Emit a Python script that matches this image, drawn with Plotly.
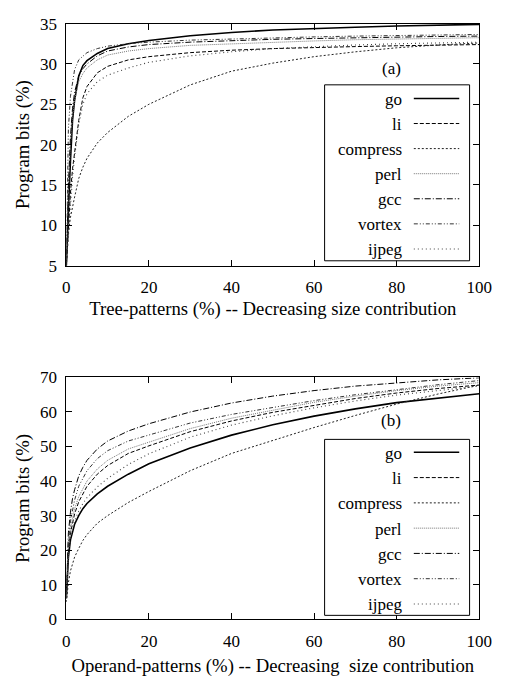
import plotly.graph_objects as go

W, H = 508, 683

# ---------------- data ----------------
x_pct = [0, 0.25, 0.5, 1, 1.5, 2, 3, 4, 5, 7.5, 10, 15, 20, 30, 40, 50, 60, 70, 80, 90, 100]
benchmarks = ["go", "li", "compress", "perl", "gcc", "vortex", "ijpeg"]

# (a) Tree-patterns
tree_go = [5, 9, 12, 18, 23, 25.5, 28.5, 29.8, 30.4, 31.3, 31.9, 32.5, 32.9, 33.5, 33.9, 34.2, 34.4, 34.55, 34.7, 34.8, 34.9]
tree_li = [5, 7.5, 10, 14, 17, 19, 23, 25.8, 27.2, 28.9, 29.7, 30.5, 30.9, 31.4, 31.7, 31.9, 32.05, 32.15, 32.25, 32.35, 32.4]
tree_compress = [5, 7.5, 9, 11, 12.5, 13.5, 15.8, 17.2, 18.3, 20.2, 21.5, 23.5, 25, 27.4, 29.1, 30.1, 30.9, 31.5, 32, 32.35, 32.6]
tree_perl = [5, 10, 14, 20, 23.5, 25.5, 27.8, 28.8, 29.5, 30.5, 31.1, 31.6, 31.9, 32.3, 32.5, 32.7, 32.85, 33, 33.1, 33.2, 33.25]
tree_gcc = [5, 11, 15, 21, 24.5, 26.5, 28.5, 29.4, 30, 31, 31.6, 32.1, 32.4, 32.7, 32.9, 33.05, 33.15, 33.25, 33.3, 33.4, 33.45]
tree_vortex = [5, 15, 22, 26, 28, 29.3, 30.5, 31.0, 31.4, 31.9, 32.2, 32.5, 32.7, 32.95, 33.1, 33.25, 33.35, 33.45, 33.5, 33.6, 33.65]
tree_ijpeg = [5, 7, 9, 13, 16, 18.5, 22.5, 25, 26.3, 27.8, 28.6, 29.5, 30.2, 31, 31.5, 31.9, 32.15, 32.35, 32.5, 32.6, 32.7]

# (b) Operand-patterns
op_go = [6, 14, 18, 23, 25.5, 27.5, 30, 32, 33.5, 36.3, 38.5, 42, 45, 49.6, 53.3, 56.3, 58.8, 60.9, 62.7, 64.1, 65.3]
op_li = [7, 15, 19.5, 25, 28, 30.5, 34, 36.5, 38.5, 42, 44.5, 48, 50.2, 54.3, 57.4, 59.9, 62, 63.9, 65.5, 66.8, 67.8]
op_compress = [5, 8, 10.6, 14, 16.3, 18, 20.5, 22.8, 24.5, 27.8, 30, 33.8, 37, 43, 48, 51.8, 55.5, 59, 62.3, 65.2, 67.8]
op_perl = [7, 15.5, 20.5, 26.5, 29.5, 32, 35.5, 38, 40, 43.5, 46, 49.3, 51.3, 55.2, 58.2, 60.6, 62.8, 64.6, 66.2, 67.5, 68.5]
op_gcc = [8, 19, 25, 31, 35, 37.5, 41.5, 44, 46, 49.3, 51.6, 54.5, 56.6, 60, 62.6, 64.6, 66.2, 67.5, 68.5, 69.3, 69.9]
op_vortex = [7, 17, 22, 28.5, 32, 34.5, 38.5, 41, 43, 46.5, 48.8, 51.6, 53.4, 56.8, 59.3, 61.4, 63.3, 65, 66.5, 67.9, 69.1]
op_ijpeg = [6, 14, 18.5, 23.5, 26.3, 28.5, 31.3, 33.5, 35.2, 38.3, 40.8, 44.8, 47.9, 52.7, 56.2, 58.9, 61.2, 63.2, 64.9, 66.3, 67.5]

x_ticks = [0, 20, 40, 60, 80, 100]
tree_yticks = [5, 10, 15, 20, 25, 30, 35]
op_yticks = [0, 10, 20, 30, 40, 50, 60, 70]

tree_series = [tree_go, tree_li, tree_compress, tree_perl, tree_gcc, tree_vortex, tree_ijpeg]
op_series = [op_go, op_li, op_compress, op_perl, op_gcc, op_vortex, op_ijpeg]

# ---------------- styles ----------------
FONT = "Liberation Serif"
TICK_SIZE = 17
TITLE_SIZE = 18.7
styles = {
    "go": dict(color="black", width=1.6, dash="solid"),
    "li": dict(color="black", width=1, dash="4px,2px"),
    "compress": dict(color="#222", width=1, dash="2px,2px"),
    "perl": dict(color="#777", width=1, dash="1px,1px"),
    "gcc": dict(color="black", width=1, dash="6px,2px,1px,2px"),
    "vortex": dict(color="#333", width=1, dash="4px,2px,1px,2px,1px,2px"),
    "ijpeg": dict(color="#444", width=1.1, dash="1px,3px"),
}

fig = go.Figure()
for name, ys in zip(benchmarks, tree_series):
    fig.add_trace(go.Scatter(x=x_pct, y=ys, mode="lines", name=name, line=styles[name],
                             xaxis="x", yaxis="y", showlegend=False))
for name, ys in zip(benchmarks, op_series):
    fig.add_trace(go.Scatter(x=x_pct, y=ys, mode="lines", name=name, line=styles[name],
                             xaxis="x2", yaxis="y2", showlegend=False))

def px_x(p):
    return p / W

def px_y(p):
    return 1 - p / H

x_dom = [px_x(64.5), px_x(491.7)]

axis_common = dict(
    showline=True, linecolor="black", linewidth=1, mirror="ticks",
    ticks="inside", ticklen=6, tickcolor="black", showgrid=False, zeroline=False,
    tickfont=dict(family=FONT, size=TICK_SIZE, color="black"),
)

fig.update_layout(
    width=W, height=H, autosize=False,
    margin=dict(l=0, r=0, t=0, b=0),
    paper_bgcolor="white", plot_bgcolor="white",
    font=dict(family=FONT, size=TICK_SIZE, color="black"),
    xaxis=dict(domain=x_dom, range=[0, 100], tickvals=x_ticks, anchor="y",
               ticklabelstandoff=6,
               title=dict(text="Tree-patterns (%) -- Decreasing size contribution",
                          font=dict(family=FONT, size=TITLE_SIZE), standoff=5),
               **axis_common),
    yaxis=dict(domain=[px_y(264), px_y(15)], range=[5, 35], tickvals=tree_yticks, anchor="x",
               ticklabelstandoff=5,
               title=dict(text="Program bits (%)", font=dict(family=FONT, size=TITLE_SIZE), standoff=5),
               **axis_common),
    xaxis2=dict(domain=x_dom, range=[0, 100], tickvals=x_ticks, anchor="y2",
                ticklabelstandoff=6,
                title=dict(text="Operand-patterns (%) -- Decreasing  size contribution",
                           font=dict(family=FONT, size=TITLE_SIZE), standoff=9),
                **axis_common),
    yaxis2=dict(domain=[px_y(627.7), px_y(379)], range=[0, 70], tickvals=op_yticks, anchor="x2",
                ticklabelstandoff=5,
                title=dict(text="Program bits (%)", font=dict(family=FONT, size=TITLE_SIZE), standoff=5),
                **axis_common),
)

# ---------------- panel labels and legends ----------------
annotations = []
shapes = []
panels = [
    dict(label="(a)", label_y=61.7, box=(331.7, 78, 481.7, 259), first=92, step=25.8),
    dict(label="(b)", label_y=423.3, box=(331.7, 442.7, 481.7, 623.7), first=456, step=26.0),
]
for p in panels:
    annotations.append(dict(text=p["label"], x=px_x(400.7), y=px_y(p["label_y"]), xref="paper", yref="paper",
                            showarrow=False, xanchor="center", yanchor="middle",
                            font=dict(family=FONT, size=TICK_SIZE, color="black")))
    x0, y0, x1, y1 = p["box"]
    shapes.append(dict(type="rect", xref="paper", yref="paper",
                       x0=px_x(x0), x1=px_x(x1), y0=px_y(y1), y1=px_y(y0),
                       line=dict(color="black", width=1), fillcolor="white", layer="above"))
    for i, name in enumerate(benchmarks):
        ry = p["first"] + i * p["step"]
        annotations.append(dict(text=name, x=px_x(414), y=px_y(ry + 1), xref="paper", yref="paper",
                                showarrow=False, xanchor="right", yanchor="middle",
                                font=dict(family=FONT, size=TICK_SIZE, color="black")))
        st = styles[name]
        shapes.append(dict(type="line", xref="paper", yref="paper",
                           x0=px_x(424), x1=px_x(471), y0=px_y(ry), y1=px_y(ry),
                           line=dict(color=st["color"], width=st["width"], dash=st["dash"]),
                           layer="above"))

fig.update_layout(annotations=annotations, shapes=shapes)
fig.write_html("out.html")
